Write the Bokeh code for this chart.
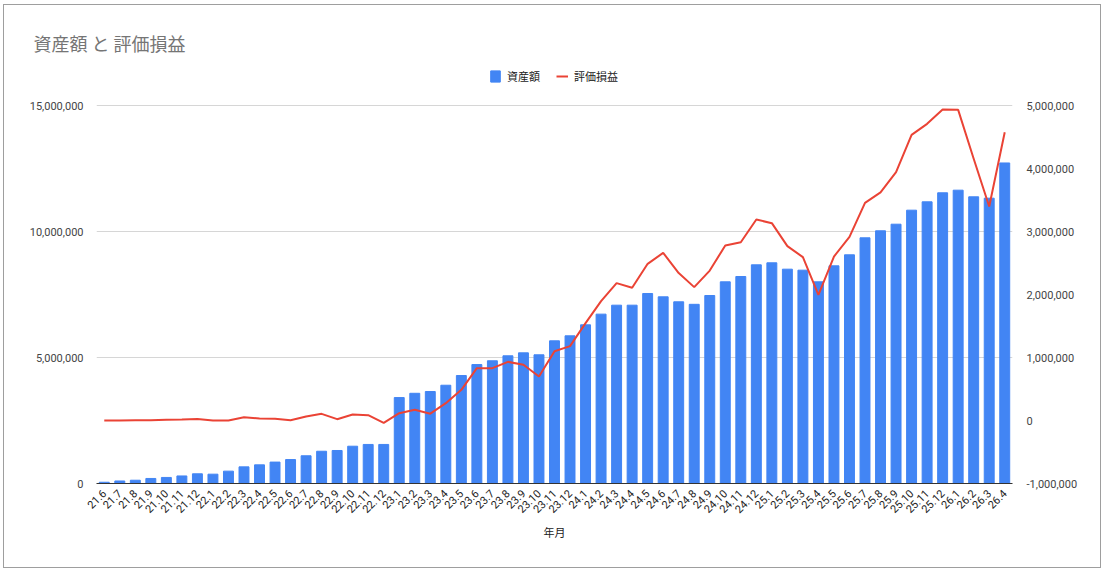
import math
from bokeh.plotting import figure
from bokeh.models import (Range1d, LinearAxis, FixedTicker, NumeralTickFormatter,
                          Legend, LegendItem, ColumnDataSource, FactorRange)
from bokeh.embed import file_html
from bokeh.resources import INLINE

months = ["21.6", "21.7", "21.8", "21.9", "21.10", "21.11", "21.12",
          "22.1", "22.2", "22.3", "22.4", "22.5", "22.6", "22.7", "22.8", "22.9", "22.10", "22.11", "22.12",
          "23.1", "23.2", "23.3", "23.4", "23.5", "23.6", "23.7", "23.8", "23.9", "23.10", "23.11", "23.12",
          "24.1", "24.2", "24.3", "24.4", "24.5", "24.6", "24.7", "24.8", "24.9", "24.10", "24.11", "24.12",
          "25.1", "25.2", "25.3", "25.4", "25.5", "25.6", "25.7", "25.8", "25.9", "25.10", "25.11", "25.12",
          "26.1", "26.2", "26.3", "26.4"]

assets = [50000, 100000, 130000, 200000, 240000, 300000, 385000,
          370000, 490000, 660000, 740000, 850000, 950000, 1100000, 1280000, 1310000, 1480000, 1550000, 1550000,
          3410000, 3580000, 3650000, 3900000, 4285000, 4720000, 4870000, 5067000, 5185000, 5107000, 5662000, 5860000,
          6297000, 6720000, 7076000, 7076000, 7540000, 7408000, 7210000, 7110000, 7460000, 8003000, 8214000, 8678000,
          8758000, 8505000, 8465000, 8003000, 8638000, 9075000, 9750000, 10028000, 10290000, 10846000, 11178000, 11536000,
          11640000, 11377000, 11322000, 12720000]

gains = [0, 0, 5000, 5000, 10000, 15000, 25000,
         0, 0, 53000, 32000, 26000, 5000, 63000, 106000, 21000, 95000, 85000, -37000,
         116000, 172000, 108000, 275000, 487000, 831000, 831000, 931000, 884000, 698000, 1100000, 1180000,
         1545000, 1894000, 2180000, 2106000, 2487000, 2661000, 2340000, 2117000, 2380000, 2778000, 2830000, 3190000,
         3132000, 2767000, 2593000, 1995000, 2603000, 2915000, 3455000, 3620000, 3941000, 4534000, 4709000, 4937000,
         4931000, 4154000, 3397000, 4576000]

left_ticks = [0, 5000000, 10000000, 15000000]
right_ticks = [-1000000, 0, 1000000, 2000000, 3000000, 4000000, 5000000]

# layout (pixels): plot area 378 px tall; frame extended upward so the legend is not clipped
PLOT_H = 378
EXTRA = 45
left_top = left_ticks[-1] + (left_ticks[-1] - left_ticks[0]) * EXTRA / PLOT_H
right_top = right_ticks[-1] + (right_ticks[-1] - right_ticks[0]) * EXTRA / PLOT_H

src = ColumnDataSource(dict(m=months, a=assets, g=gains))

p = figure(x_range=FactorRange(*months, range_padding=0), y_range=Range1d(left_ticks[0], left_top),
           width=1096, height=562, output_backend="svg", toolbar_location=None,
           min_border_left=92, min_border_right=88, min_border_top=55, min_border_bottom=84)
p.extra_y_ranges = {"right": Range1d(right_ticks[0], right_top)}
p.outline_line_color = None
p.background_fill_color = "white"
p.border_fill_color = "white"
p.styles = {"outline": "1px solid #9e9e9e", "margin-left": "4px", "margin-top": "5px"}

bars = p.vbar(x="m", top="a", width=0.64, source=src, color="#4285F4")
line = p.line(x="m", y="g", source=src, y_range_name="right", line_color="#EA4335", line_width=2)

tick_font = "Roboto"
la = p.yaxis[0]
la.ticker = FixedTicker(ticks=left_ticks)
la.formatter = NumeralTickFormatter(format="0,0")
la.axis_line_color = None
la.major_tick_line_color = None
la.minor_tick_line_color = None
la.major_label_text_font = tick_font
la.major_label_text_font_size = "11px"
la.major_label_text_color = "#444444"
la.major_label_standoff = 7

ra = LinearAxis(y_range_name="right", ticker=FixedTicker(ticks=right_ticks),
                formatter=NumeralTickFormatter(format="0,0"))
ra.axis_line_color = None
ra.major_tick_line_color = None
ra.minor_tick_line_color = None
ra.major_label_text_font = tick_font
ra.major_label_text_font_size = "11px"
ra.major_label_text_color = "#444444"
ra.major_label_standoff = 8
p.add_layout(ra, "right")

xa = p.xaxis[0]
xa.axis_line_color = "#333333"
xa.axis_line_width = 1
xa.major_tick_line_color = None
xa.minor_tick_line_color = None
xa.major_label_orientation = math.pi / 4
xa.major_label_text_font = tick_font
xa.major_label_text_font_size = "11px"
xa.major_label_text_color = "#222222"
xa.major_label_standoff = 2
xa.axis_label = "年月"
xa.axis_label_text_font = "Noto Sans CJK JP"
xa.axis_label_text_font_size = "11px"
xa.axis_label_text_font_style = "normal"
xa.axis_label_text_color = "#222222"
xa.axis_label_standoff = 4

p.xgrid.grid_line_color = None
p.ygrid.grid_line_color = "#d6d6d6"
p.ygrid.grid_line_width = 1

legend = Legend(items=[LegendItem(label="資産額", renderers=[bars]),
                       LegendItem(label="評価損益", renderers=[line])],
                location=(393, 399), orientation="horizontal",
                label_text_font="Noto Sans CJK JP", label_text_font_size="11px",
                label_text_color="#222222", glyph_width=12, glyph_height=14,
                label_standoff=6, spacing=16, padding=0, margin=0,
                border_line_alpha=0, background_fill_alpha=0)
p.add_layout(legend, "center")

p.title.text = "資産額 と 評価損益"
p.title.align = "left"
p.title.offset = -63
p.title.text_font = "Noto Sans CJK JP"
p.title.text_font_size = "18px"
p.title.text_font_style = "normal"
p.title.text_color = "#757575"

open("out.html", "w").write(file_html(p, INLINE))
